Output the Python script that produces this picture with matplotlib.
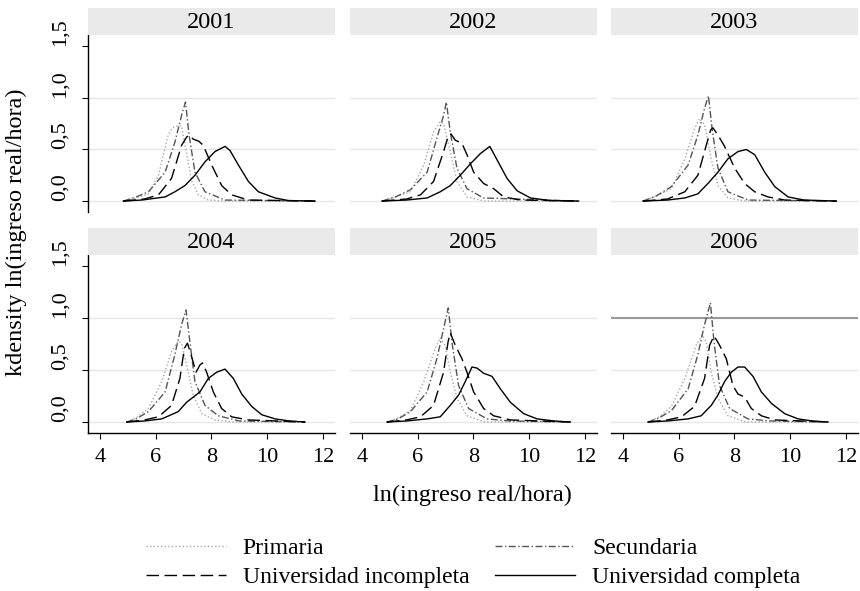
import matplotlib
matplotlib.use("Agg")
import matplotlib.pyplot as plt

plt.rcParams['font.family'] = ['Liberation Serif', 'DejaVu Serif']

years = [2001, 2002, 2003, 2004, 2005, 2006]
levels = ['Primaria', 'Secundaria', 'Universidad incompleta', 'Universidad completa']
yticks = [0.0, 0.5, 1.0, 1.5]
ytick_labels = ['0,0', '0,5', '1,0', '1,5']
xticks = [4, 6, 8, 10, 12]

# kernel density curves: year -> (x, y)
primaria = {
    2001: ([4.84, 5.3, 5.74, 6.1, 6.45, 6.6, 6.8, 6.93, 7.05, 7.29, 7.53, 7.89, 8.5, 11.72],
           [0, 0.03, 0.07, 0.25, 0.64, 0.71, 0.73, 0.73, 0.55, 0.2, 0.06, 0.01, 0, 0]),
    2002: ([4.72, 5.2, 5.74, 6.22, 6.57, 6.81, 6.93, 7.17, 7.41, 7.77, 8.4, 11.78],
           [0, 0.04, 0.09, 0.35, 0.67, 0.77, 0.75, 0.48, 0.19, 0.04, 0, 0]),
    2003: ([4.72, 5.2, 5.74, 6.22, 6.57, 6.75, 6.93, 7.17, 7.41, 7.77, 8.4, 11.66],
           [0, 0.05, 0.12, 0.41, 0.70, 0.80, 0.74, 0.41, 0.15, 0.03, 0, 0]),
    2004: ([4.96, 5.3, 5.74, 6.22, 6.57, 6.81, 6.93, 7.11, 7.35, 7.65, 8.13, 8.8, 11.36],
           [0, 0.04, 0.13, 0.39, 0.68, 0.78, 0.76, 0.55, 0.26, 0.08, 0.02, 0, 0]),
    2005: ([4.9, 5.3, 5.74, 6.22, 6.63, 6.81, 6.99, 7.17, 7.41, 7.77, 8.4, 11.48],
           [0, 0.04, 0.11, 0.39, 0.71, 0.81, 0.74, 0.48, 0.23, 0.06, 0, 0]),
    2006: ([4.9, 5.3, 5.74, 6.22, 6.63, 6.84, 6.99, 7.17, 7.41, 7.77, 8.4, 11.36],
           [0, 0.05, 0.15, 0.42, 0.74, 0.84, 0.77, 0.48, 0.23, 0.06, 0, 0]),
}
secundaria = {
    2001: ([4.84, 5.3, 5.74, 6.34, 6.69, 6.93, 7.07, 7.2, 7.41, 7.77, 8.49, 11.72],
           [0, 0.04, 0.09, 0.28, 0.57, 0.83, 0.96, 0.64, 0.28, 0.09, 0.01, 0]),
    2002: ([4.72, 5.2, 5.74, 6.34, 6.69, 6.93, 7.03, 7.17, 7.41, 7.77, 8.37, 11.78],
           [0, 0.04, 0.11, 0.28, 0.61, 0.83, 0.96, 0.67, 0.32, 0.12, 0.03, 0]),
    2003: ([4.72, 5.2, 5.74, 6.34, 6.69, 6.93, 7.07, 7.2, 7.41, 7.77, 8.49, 11.66],
           [0, 0.05, 0.14, 0.35, 0.64, 0.90, 1.02, 0.70, 0.32, 0.09, 0.01, 0]),
    2004: ([4.96, 5.3, 5.74, 6.34, 6.69, 6.93, 7.09, 7.23, 7.41, 7.77, 8.25, 9.0, 11.36],
           [0, 0.03, 0.10, 0.29, 0.65, 0.94, 1.08, 0.77, 0.39, 0.16, 0.06, 0.01, 0]),
    2005: ([4.9, 5.3, 5.74, 6.34, 6.69, 6.93, 7.1, 7.23, 7.47, 7.83, 8.49, 9.3, 11.48],
           [0, 0.03, 0.10, 0.29, 0.61, 0.90, 1.10, 0.77, 0.35, 0.13, 0.03, 0.01, 0]),
    2006: ([4.9, 5.3, 5.74, 6.34, 6.69, 6.93, 7.14, 7.27, 7.47, 7.83, 8.49, 9.3, 11.36],
           [0, 0.04, 0.11, 0.32, 0.65, 0.94, 1.15, 0.77, 0.35, 0.13, 0.03, 0.01, 0]),
}
univ_incompleta = {
    2001: ([4.84, 5.6, 6.1, 6.57, 6.93, 7.11, 7.2, 7.35, 7.55, 7.71, 8.01, 8.37, 8.73, 9.33, 11.72],
           [0, 0.02, 0.06, 0.22, 0.54, 0.62, 0.64, 0.60, 0.58, 0.54, 0.35, 0.15, 0.06, 0.01, 0]),
    2002: ([4.72, 5.6, 6.1, 6.57, 6.93, 7.11, 7.2, 7.35, 7.59, 7.77, 8.01, 8.37, 8.73, 9.09, 9.69, 11.78],
           [0, 0.02, 0.06, 0.19, 0.48, 0.64, 0.65, 0.59, 0.56, 0.45, 0.28, 0.17, 0.12, 0.04, 0.01, 0]),
    2003: ([4.72, 5.6, 6.22, 6.69, 6.99, 7.15, 7.23, 7.41, 7.65, 8.01, 8.37, 8.73, 9.21, 9.81, 11.66],
           [0, 0.02, 0.09, 0.25, 0.54, 0.69, 0.71, 0.64, 0.53, 0.32, 0.17, 0.09, 0.04, 0.01, 0]),
    2004: ([4.96, 5.6, 6.1, 6.57, 6.87, 7.03, 7.14, 7.27, 7.45, 7.59, 7.68, 7.83, 8.07, 8.37, 8.73, 9.33, 11.36],
           [0, 0.02, 0.05, 0.16, 0.42, 0.71, 0.76, 0.65, 0.48, 0.55, 0.57, 0.48, 0.29, 0.13, 0.05, 0.02, 0]),
    2005: ([4.9, 5.6, 6.1, 6.57, 6.93, 7.09, 7.17, 7.35, 7.59, 7.77, 8.01, 8.37, 8.73, 9.33, 11.48],
           [0, 0.02, 0.05, 0.16, 0.48, 0.77, 0.86, 0.74, 0.61, 0.48, 0.29, 0.13, 0.06, 0.02, 0]),
    2006: ([4.9, 5.6, 6.1, 6.57, 6.93, 7.11, 7.27, 7.47, 7.71, 7.95, 8.13, 8.37, 8.61, 8.97, 9.45, 11.36],
           [0, 0.02, 0.05, 0.15, 0.42, 0.74, 0.83, 0.74, 0.61, 0.35, 0.27, 0.24, 0.13, 0.06, 0.02, 0]),
}
univ_completa = {
    2001: ([4.84, 5.5, 6.34, 6.69, 7.05, 7.41, 7.77, 8.13, 8.49, 8.67, 8.97, 9.33, 9.69, 10.29, 10.76, 11.72],
           [0, 0.01, 0.04, 0.09, 0.15, 0.25, 0.38, 0.48, 0.53, 0.49, 0.35, 0.19, 0.09, 0.03, 0.005, 0]),
    2002: ([4.72, 5.6, 6.34, 6.81, 7.17, 7.53, 7.89, 8.25, 8.59, 8.85, 9.21, 9.57, 10.05, 10.76, 11.78],
           [0, 0.01, 0.03, 0.09, 0.15, 0.25, 0.36, 0.46, 0.53, 0.40, 0.22, 0.10, 0.03, 0.005, 0]),
    2003: ([4.72, 5.6, 6.22, 6.69, 7.05, 7.41, 7.77, 8.13, 8.43, 8.73, 9.09, 9.45, 9.93, 10.5, 11.66],
           [0, 0.01, 0.03, 0.07, 0.17, 0.28, 0.41, 0.48, 0.50, 0.45, 0.28, 0.14, 0.04, 0.01, 0]),
    2004: ([4.96, 5.6, 6.22, 6.81, 7.11, 7.35, 7.59, 7.89, 8.19, 8.49, 8.79, 9.09, 9.45, 9.81, 10.29, 10.8, 11.36],
           [0, 0.01, 0.03, 0.10, 0.19, 0.24, 0.29, 0.42, 0.48, 0.51, 0.42, 0.27, 0.15, 0.07, 0.03, 0.01, 0]),
    2005: ([4.9, 5.6, 6.34, 6.81, 7.17, 7.47, 7.71, 7.95, 8.13, 8.37, 8.67, 8.97, 9.33, 9.81, 10.29, 10.9, 11.48],
           [0, 0.01, 0.03, 0.05, 0.16, 0.26, 0.39, 0.53, 0.52, 0.47, 0.44, 0.32, 0.19, 0.08, 0.03, 0.01, 0]),
    2006: ([4.9, 5.6, 6.34, 6.81, 7.17, 7.41, 7.65, 7.89, 8.13, 8.37, 8.67, 8.97, 9.33, 9.81, 10.29, 10.8, 11.36],
           [0, 0.01, 0.03, 0.06, 0.16, 0.26, 0.39, 0.48, 0.53, 0.53, 0.44, 0.29, 0.18, 0.08, 0.03, 0.01, 0]),
}

styles = [
    (primaria, dict(color='#a8a8a8', lw=1.0, dashes=(1, 1.6))),
    (secundaria, dict(color='#555555', lw=1.0, dashes=(5, 1.8, 1, 1.8))),
    (univ_incompleta, dict(color='black', lw=1.0, dashes=(9, 4))),
    (univ_completa, dict(color='black', lw=1.0, linestyle='-')),
]

W, H = 860, 591
fig = plt.figure(figsize=(W / 100, H / 100), dpi=100)


def px_axes(left, top, w, h):
    return fig.add_axes([left / W, 1 - (top + h) / H, w / W, h / H])


col_left = [88, 350, 611]
row_top = [35, 255]
row_h = [177, 178]
strip_top = [8, 228]
pw = 247

handles = []
for i, yr in enumerate(years):
    r, c = divmod(i, 3)
    ax = px_axes(col_left[c], row_top[r], pw, row_h[r])
    for y in [0.0, 0.5, 1.0]:
        ax.axhline(y, color='#e6e6e6', lw=1.0, zorder=0)
    if yr == 2006:
        ax.axhline(1.0, color='#9a9a9a', lw=1.5, zorder=1)
    for (data, st), name in zip(styles, levels):
        xs, ys = data[yr]
        ln, = ax.plot(xs, ys, label=name, **st)
        if i == 0:
            handles.append(ln)
    ax.set_xlim(3.57, 12.44)
    ax.set_ylim(-0.106, 1.61)
    for s in ['top', 'right']:
        ax.spines[s].set_visible(False)
    ax.spines['left'].set_visible(c == 0)
    ax.spines['bottom'].set_visible(r == 1)
    ax.spines['left'].set_linewidth(1.0)
    ax.spines['bottom'].set_linewidth(1.0)
    if c == 0:
        ax.set_yticks(yticks)
        ax.set_yticklabels(ytick_labels, rotation=90, va='bottom', fontsize=16)
        ax.tick_params(axis='y', length=4.5, width=0.8, pad=9)
    else:
        ax.set_yticks([])
    if r == 1:
        ax.set_xticks(xticks)
        ax.set_xticklabels([str(t) for t in xticks], fontsize=16)
        ax.tick_params(axis='x', length=4.5, width=0.8, pad=6)
    else:
        ax.set_xticks([])

    sax = px_axes(col_left[c], strip_top[r], pw, 27)
    sax.set_facecolor('#eaeaea')
    sax.set_xticks([])
    sax.set_yticks([])
    for s in sax.spines.values():
        s.set_visible(False)
    sax.text(0.5, 0.45, str(yr), ha='center', va='center', fontsize=17.5,
             transform=sax.transAxes)

fig.text(472 / W, 1 - 495 / H, 'ln(ingreso real/hora)', ha='center', va='center', fontsize=17.5)
fig.text(16 / W, 1 - 232 / H, 'kdensity ln(ingreso real/hora)', ha='center', va='center',
         rotation=90, fontsize=17.5)

order = [0, 2, 1, 3]
fig.legend([handles[k] for k in order], [levels[k] for k in order], ncol=2,
           loc='center', bbox_to_anchor=(473 / W, 1 - 563 / H), frameon=False,
           fontsize=17, handlelength=3.4, handletextpad=0.7, columnspacing=1.1,
           labelspacing=0.3)

fig.savefig('out.png', dpi=100)
